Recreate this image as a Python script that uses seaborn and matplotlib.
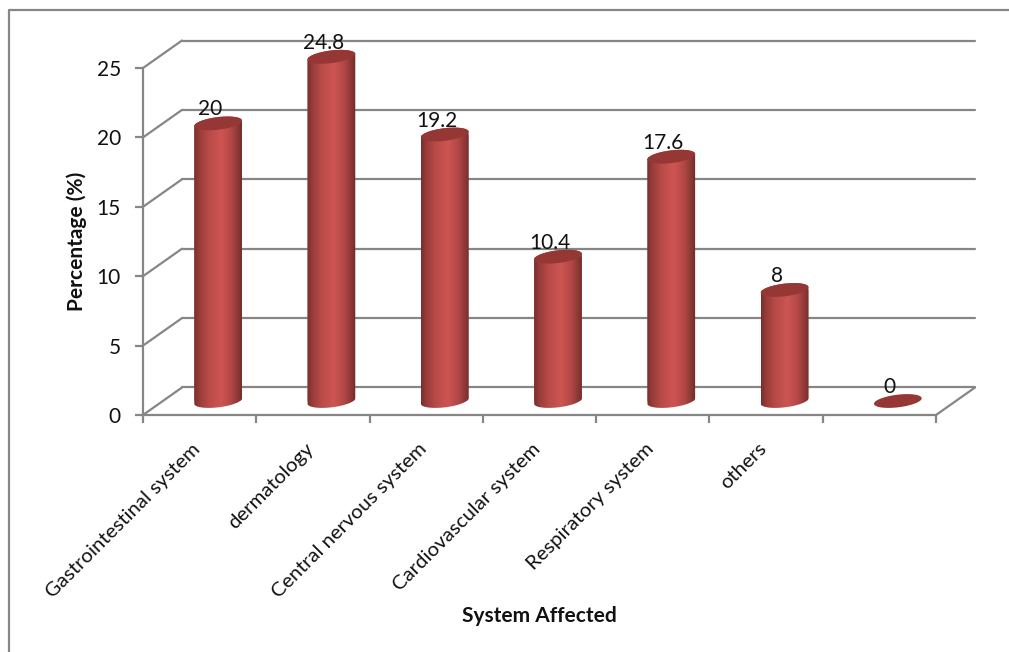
import numpy as np
import pandas as pd
import matplotlib
matplotlib.use("Agg")
import matplotlib.pyplot as plt
from matplotlib.lines import Line2D
from matplotlib.patches import PathPatch
from matplotlib.path import Path
from matplotlib.transforms import IdentityTransform, Affine2D
import seaborn as sns

categories = ["Gastrointestinal system", "dermatology", "Central nervous system",
              "Cardiovascular system", "Respiratory system", "others", ""]
percentages = [20, 24.8, 19.2, 10.4, 17.6, 8, 0]
value_labels = ["20", "24.8", "19.2", "10.4", "17.6", "8", "0"]
y_ticks = [0, 5, 10, 15, 20, 25]

W, H = 1009, 652
GREY = "#868686"
TEXT = "#111111"

sns.set_theme(style="white")
plt.rcParams["font.family"] = ["Lato", "DejaVu Sans"]

fig = plt.figure(figsize=(W / 100, H / 100), dpi=100, facecolor="white")


def plane(dx, dy, zorder):
    """Axes for one depth plane of the pseudo-3D box, shifted by (dx, dy) pixels."""
    x0, x1, top, bottom = 143 + dx, 936 + dx, 68 + dy, 415 + dy
    ax = fig.add_axes([x0 / W, 1 - bottom / H, (x1 - x0) / W, (bottom - top) / H],
                      zorder=zorder)
    ax.set_xlim(-0.5, 6.5)
    ax.set_ylim(0, 25)
    ax.patch.set_alpha(0)
    return ax


back = plane(39, -27.5, 1)
front = plane(0, 0, 2)
mid = plane(18.5, -14, 3)

# Back wall gridlines
back.set_yticks(y_ticks)
back.set_xticks([])
back.grid(axis="y", color=GREY, lw=1.6, clip_on=False)
back.tick_params(left=False, labelleft=False)
sns.despine(ax=back, left=True, bottom=True)

# Front axes: spines, boundary ticks and labels
sns.despine(ax=front)
for side in ("left", "bottom"):
    front.spines[side].set_color(GREY)
    front.spines[side].set_linewidth(1.6)
front.set_yticks(y_ticks)
front.tick_params(axis="y", left=True, length=6, width=1.6, color=GREY,
                  labelsize=15, labelcolor=TEXT, pad=10)
front.set_xticks(range(len(categories)))
front.set_xticklabels(categories, rotation=45, ha="right", rotation_mode="anchor",
                      fontsize=14.7, color=TEXT)
front.set_xticks(np.arange(-0.5, 7), minor=True)
front.tick_params(axis="x", which="major", bottom=False, pad=12)
front.tick_params(axis="x", which="minor", bottom=True, length=6, width=1.6, color=GREY)
for tick_label in front.get_xticklabels():
    tick_label.set_transform(tick_label.get_transform() + Affine2D().translate(-8, 0))
front.set_xlabel("")
fig.text(539 / W, 1 - 616 / H, "System Affected", ha="center", va="center",
         fontsize=15, fontweight="bold", color=TEXT)
fig.text(76.5 / W, 1 - 241 / H, "Percentage (%)", ha="center", va="center",
         rotation=90, fontsize=15, fontweight="bold", color=TEXT)

# Depth lines joining the front plane to the back wall
for v in y_ticks:
    p0 = front.transData.transform((-0.5, v))
    p1 = back.transData.transform((-0.5, v))
    fig.add_artist(Line2D([p0[0], p1[0]], [p0[1], p1[1]], color=GREY, lw=1.6,
                          transform=IdentityTransform()))
p0 = front.transData.transform((6.5, 0))
p1 = back.transData.transform((6.5, 0))
fig.add_artist(Line2D([p0[0], p1[0]], [p0[1], p1[1]], color=GREY, lw=1.6,
                      transform=IdentityTransform()))

# Page frame along the top and left edges
fig.add_artist(Line2D([9 / W, 9 / W, 1], [0, 1 - 10 / H, 1 - 10 / H], color=GREY, lw=1.6))

# Cylinders
df = pd.DataFrame({"system": categories, "pct": percentages})
sns.barplot(data=df, x="system", y="pct", ax=mid, color="#c0504d", saturation=1,
            width=0.424, linewidth=0, order=categories)
mid.set_xlim(-0.5, 6.5)
mid.set_ylim(0, 25)
mid.axis("off")

stops = np.array([0, 0.1, 0.3, 0.55, 0.75, 0.92, 1.0])
reds = np.array([[120, 45, 43], [150, 60, 58], [185, 75, 72], [205, 85, 82],
                 [180, 72, 70], [135, 55, 53], [110, 42, 40]]) / 255
xs = np.linspace(0, 1, 128)
shade = np.stack([np.interp(xs, stops, reds[:, i]) for i in range(3)], axis=1)[None, :, :]

TILT = np.deg2rad(7)
MINOR = 6.3


def ellipse(cx, cy, a, t):
    ex, ey = a * np.cos(t), MINOR * np.sin(t)
    return np.column_stack([cx + ex * np.cos(TILT) - ey * np.sin(TILT),
                            cy + ex * np.sin(TILT) + ey * np.cos(TILT)])


bars = sorted(mid.patches, key=lambda b: b.get_x())
for bar, val, label in zip(bars, percentages, value_labels):
    left, right = bar.get_x(), bar.get_x() + bar.get_width()
    c = (left + right) / 2
    (px0, py0), (px1, py1) = mid.transData.transform([(left, val), (right, 0)])
    cx, a = (px0 + px1) / 2, (px1 - px0) / 2
    if val > 0:
        lower = ellipse(cx, py1, a, np.linspace(np.pi, 2 * np.pi, 40))
        upper = ellipse(cx, py0, a, np.linspace(0, np.pi, 40))
        body = Path(np.vstack([lower, upper, lower[:1]]), closed=True)
        bar.set_clip_path(body, IdentityTransform())
        bar.set_clip_box(fig.bbox)
        # The shading runs slightly below the baseline so the rounded foot is covered
        im = mid.imshow(shade, extent=(left, right, -2, val + 2), aspect="auto",
                        origin="lower", zorder=3, interpolation="bilinear")
        im.set_clip_path(body, IdentityTransform())
        im.set_clip_box(fig.bbox)
    else:
        bar.set_visible(False)
    cap = Path(ellipse(cx, py0, a, np.linspace(0, 2 * np.pi, 80)), closed=True)
    mid.add_patch(PathPatch(cap, transform=IdentityTransform(), facecolor="#953735",
                            edgecolor="none", zorder=4, clip_on=False))
    mid.annotate(label, (c, val), xytext=(-8, 14), textcoords="offset pixels",
                 ha="center", va="center", fontsize=15, color=TEXT,
                 annotation_clip=False, zorder=5)
mid.set_xlim(-0.5, 6.5)
mid.set_ylim(0, 25)

fig.savefig("out.png", dpi=100, facecolor="white")
